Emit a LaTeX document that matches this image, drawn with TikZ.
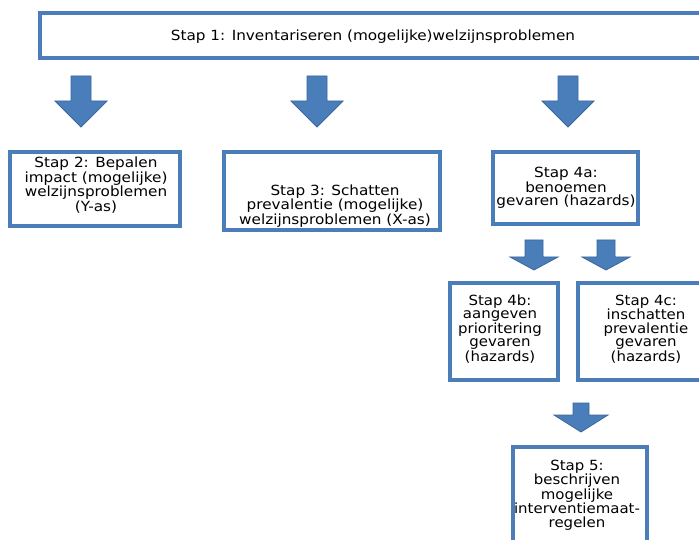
\documentclass[tikz,border=0pt]{standalone}
\usepackage{fontspec}
\setmainfont{DejaVu Sans}
\newfontfamily\tahfont{DejaVu Sans}[FakeStretch=1.09]
\newfontfamily\verfont{DejaVu Sans}[FakeStretch=1.07]
\definecolor{boxblue}{HTML}{4B7DB8}
\definecolor{arrblue}{HTML}{4A7EBB}
\definecolor{arredge}{HTML}{3A679C}
\newcommand\myblockarrow[6]{%
  \filldraw[arr] ({#1-#5},#2) -- ({#1+#5},#2) -- ({#1+#5},#3) -- ({#1+#6},#3)
    -- (#1,#4) -- ({#1-#6},#3) -- ({#1-#5},#3) -- cycle;}
\begin{document}
\begin{tikzpicture}[x=1pt,y=-1pt,
  box/.style={draw=boxblue, line width=3.2pt, fill=white, inner sep=0pt},
  tah/.style={align=center, font=\tahfont\fontsize{14}{13.5}\selectfont, inner sep=0pt},
  ver/.style={align=center, font=\verfont\fontsize{14}{13.5}\selectfont, inner sep=0pt},
  arr/.style={fill=arrblue, draw=arredge, line width=0.8pt, line join=miter}
]
\useasboundingbox (0,0) rectangle (699,540);
\clip (0,0) rectangle (699,540);
\fill[white] (0,0) rectangle (699,540);

% boxes
\node[box, minimum width=670pt, minimum height=45pt] (b1) at (375,35.5) {};
\node[tah] (t1) at (373,37) {Stap 1: Inventariseren (mogelijke)welzijnsproblemen};

\node[box, minimum width=170pt, minimum height=74pt] (b2) at (95,189) {};
\node[tah] (t2) at (96,185) {Stap 2: Bepalen\\impact (mogelijke)\\welzijnsproblemen\\(Y-as)};

\node[box, minimum width=216pt, minimum height=78pt] (b3) at (332,191) {};
\node[tah] (t3) at (335,206) {Stap 3: Schatten\\prevalentie (mogelijke)\\welzijnsproblemen (X-as)};

\node[box, minimum width=145pt, minimum height=72pt] (b4a) at (565.5,188) {};
\node[tah] (t4a) at (566,188) {Stap 4a:\\benoemen\\gevaren (hazards)};

\node[box, minimum width=108pt, minimum height=97pt] (b4b) at (504,331.5) {};
\node[ver] (t4b) at (500,329) {Stap 4b:\\aangeven\\prioritering\\gevaren\\(hazards)};

\node[box, minimum width=130pt, minimum height=97pt] (b4c) at (643,331.5) {};
\node[ver] (t4c) at (646,329) {Stap 4c:\\inschatten\\prevalentie\\gevaren\\(hazards)};

\node[box, minimum width=134pt, minimum height=110pt] (b5) at (580,502) {};
\node[ver] (t5) at (577,495) {Stap 5:\\beschrijven\\mogelijke\\interventiemaat-\\regelen};

% block arrows
\myblockarrow{81}{76}{101}{127}{10}{26}
\myblockarrow{317}{76}{101}{127}{10}{26}
\myblockarrow{568}{76}{101}{127}{10}{26}
\myblockarrow{534}{240}{257}{270}{9}{24}
\myblockarrow{606}{240}{257}{270}{9}{24}
\myblockarrow{581}{403}{415}{432}{8}{27}
\end{tikzpicture}
\end{document}
